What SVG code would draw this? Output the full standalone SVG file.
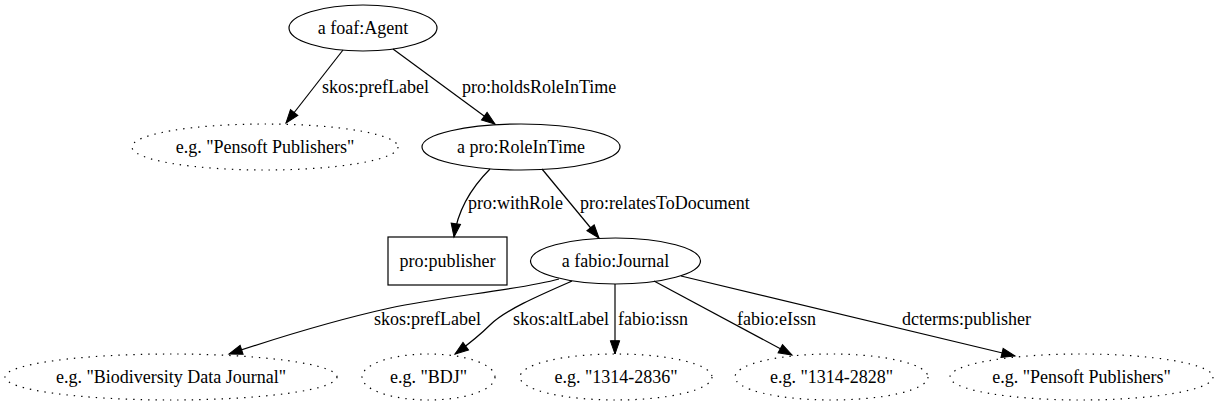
<svg xmlns="http://www.w3.org/2000/svg" width="1223" height="407" viewBox="0 0 1223 407">
<style>
  text { font-family: "Liberation Serif", "Times New Roman", serif; font-size: 18px; fill: #000; }
  .n { text-anchor: middle; }
  .shape { fill: none; stroke: #000; stroke-width: 1.2; }
  .lit { fill: none; stroke: #000; stroke-width: 1.2; stroke-dasharray: 1.4,6; }
  .e { fill: none; stroke: #000; stroke-width: 1.2; marker-end: url(#ah); }
</style>
<defs>
  <marker id="ah" markerUnits="userSpaceOnUse" markerWidth="16" markerHeight="12" refX="13.3" refY="4.9" orient="auto" overflow="visible">
    <path d="M0,0.2 L13.3,4.9 L0,9.6 z" fill="#000" stroke="#000" stroke-width="1"/>
  </marker>
</defs>
<rect width="1223" height="407" fill="#fff"/>

<g id="connectors">
  <g id="e1"><path class="e" d="M343,50 L286,123"/><text x="322" y="93">skos:prefLabel</text></g>
  <g id="e2"><path class="e" d="M393,49 L495,124"/><text x="462" y="93">pro:holdsRoleInTime</text></g>
  <g id="e3"><path class="e" d="M490,169 C472,187 458,208 454,237"/><text x="468" y="209">pro:withRole</text></g>
  <g id="e4"><path class="e" d="M542,169 L599,238"/><text x="580" y="209">pro:relatesToDocument</text></g>
  <g id="e5"><path class="e" d="M559,279 C520,290 445,296 390,308 C340,319 280,337 229,354"/><text x="374" y="325">skos:prefLabel</text></g>
  <g id="e6"><path class="e" d="M572,281 C540,295 505,310 490,325 C478,337 466,346 455,354"/><text x="513" y="325">skos:altLabel</text></g>
  <g id="e7"><path class="e" d="M615,284 L615,354"/><text x="618" y="325">fabio:issn</text></g>
  <g id="e8"><path class="e" d="M654,281 L792,355"/><text x="737" y="325">fabio:eIssn</text></g>
  <g id="e9"><path class="e" d="M681,276 L1015,356"/><text x="902" y="325">dcterms:publisher</text></g>
</g>

<g id="agent"><ellipse class="shape" cx="363" cy="28" rx="74" ry="23"/><text class="n" x="363" y="34">a foaf:Agent</text></g>
<g id="agentLabel"><ellipse class="lit" cx="265" cy="147" rx="133" ry="23"/><text class="n" x="265" y="153">e.g. "Pensoft Publishers"</text></g>
<g id="roleInTime"><ellipse class="shape" cx="521" cy="147" rx="99" ry="23"/><text class="n" x="521" y="153">a pro:RoleInTime</text></g>
<g id="publisherRole"><rect class="shape" x="388" y="237" width="119" height="48"/><text class="n" x="447.5" y="267">pro:publisher</text></g>
<g id="journal"><ellipse class="shape" cx="615.5" cy="261" rx="85" ry="23"/><text class="n" x="615.5" y="267">a fabio:Journal</text></g>
<g id="journalPrefLabel"><ellipse class="lit" cx="171" cy="377" rx="166" ry="23"/><text class="n" x="171" y="383">e.g. "Biodiversity Data Journal"</text></g>
<g id="journalAltLabel"><ellipse class="lit" cx="428.5" cy="377" rx="66.5" ry="23"/><text class="n" x="428.5" y="383">e.g. "BDJ"</text></g>
<g id="issn"><ellipse class="lit" cx="616" cy="377" rx="96" ry="23"/><text class="n" x="616" y="383">e.g. "1314-2836"</text></g>
<g id="eissn"><ellipse class="lit" cx="831.5" cy="377" rx="96.5" ry="23"/><text class="n" x="831.5" y="383">e.g. "1314-2828"</text></g>
<g id="journalPublisher"><ellipse class="lit" cx="1081.5" cy="377" rx="131.5" ry="23"/><text class="n" x="1081.5" y="383">e.g. "Pensoft Publishers"</text></g>
</svg>
